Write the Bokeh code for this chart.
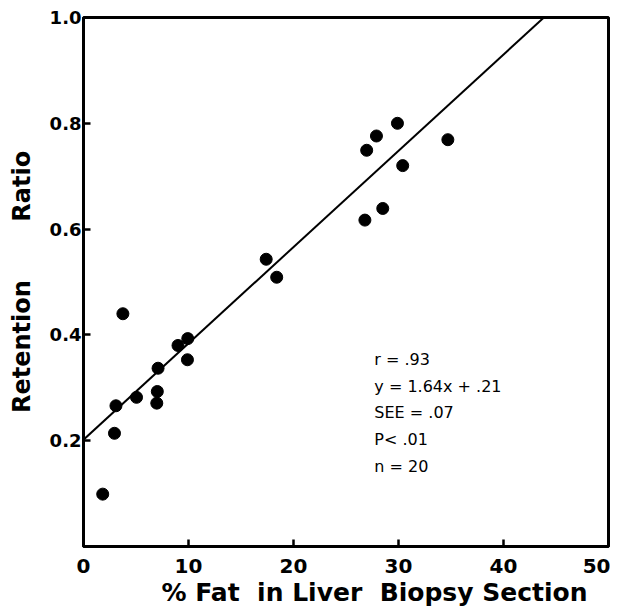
from bokeh.plotting import figure
from bokeh.models import Range1d, FixedTicker, Label, PrintfTickFormatter, Title
from bokeh.embed import file_html
from bokeh.resources import INLINE

# Data
fat_pct = [1.83, 2.95, 3.09, 3.75, 5.05, 7.1, 7.03, 6.98, 9.0, 9.93, 9.9,
           17.4, 18.4, 26.97, 27.9, 29.9, 34.7, 30.4, 28.5, 26.8]
retention_ratio = [0.099, 0.214, 0.266, 0.440, 0.282, 0.337, 0.293, 0.271, 0.380, 0.393, 0.353,
                   0.543, 0.509, 0.749, 0.776, 0.800, 0.769, 0.720, 0.639, 0.617]

fit_intercept = 0.202
fit_slope = 0.0182

x_ticks = [0, 10, 20, 30, 40, 50]
y_ticks = [0.2, 0.4, 0.6, 0.8, 1.0]

stats_lines = ["r = .93", "y = 1.64x + .21", "SEE = .07", "P< .01", "n = 20"]

NB = "\u00a0"
x_label = "% Fat" + NB + " in Liver" + NB + " Biopsy Section"
y_label = "Retention" + NB * 7 + "Ratio"

# Regression line from intercept to where it reaches y = 1.0
fit_x = [0.0, (1.0 - fit_intercept) / fit_slope]
fit_y = [fit_intercept + fit_slope * v for v in fit_x]

p = figure(width=610, height=608,
           x_range=Range1d(0, 50), y_range=Range1d(0, 1.0),
           output_backend="svg", toolbar_location=None,
           min_border_left=83, min_border_right=2,
           min_border_top=17, min_border_bottom=62)

p.background_fill_color = "white"
p.border_fill_color = "white"
p.outline_line_color = "black"
p.outline_line_width = 3
p.grid.visible = False

for ax in (p.xaxis[0], p.yaxis[0]):
    ax.axis_line_width = 3
    ax.axis_line_color = "black"
    ax.major_tick_in = 7
    ax.major_tick_out = 0
    ax.major_tick_line_width = 2.5
    ax.major_tick_line_color = "black"
    ax.minor_tick_line_color = None
    ax.major_label_text_font = "DejaVu Sans"
    ax.major_label_text_font_style = "bold"
    ax.major_label_text_color = "black"

p.xaxis.ticker = FixedTicker(ticks=x_ticks)
p.yaxis.ticker = FixedTicker(ticks=y_ticks)
p.yaxis.formatter = PrintfTickFormatter(format="%.1f")
p.xaxis.major_label_text_font_size = "20px"
p.yaxis.major_label_text_font_size = "18px"
p.xaxis.major_label_standoff = 12
p.yaxis.major_label_standoff = 2

p.yaxis.axis_label = y_label
p.yaxis.axis_label_text_font = "DejaVu Sans"
p.yaxis.axis_label_text_font_style = "bold"
p.yaxis.axis_label_text_font_size = "24px"
p.yaxis.axis_label_text_color = "black"
p.yaxis.axis_label_standoff = 11

p.line(fit_x, fit_y, line_width=2, line_color="black")
p.scatter(fat_pct, retention_ratio, size=12, fill_color="black", line_color="black")

for i, t in enumerate(stats_lines):
    p.add_layout(Label(x=27.7, y=0.354 - i * 0.0507, text=t,
                       text_font="DejaVu Sans", text_font_size="16px",
                       text_color="black", text_baseline="alphabetic",
                       text_align="left"))

p.add_layout(Title(text=x_label, align="left", offset=78, standoff=0,
                   text_font="DejaVu Sans", text_font_style="bold",
                   text_font_size="25px", text_color="black"), "below")

open("out.html", "w").write(file_html(p, INLINE))
